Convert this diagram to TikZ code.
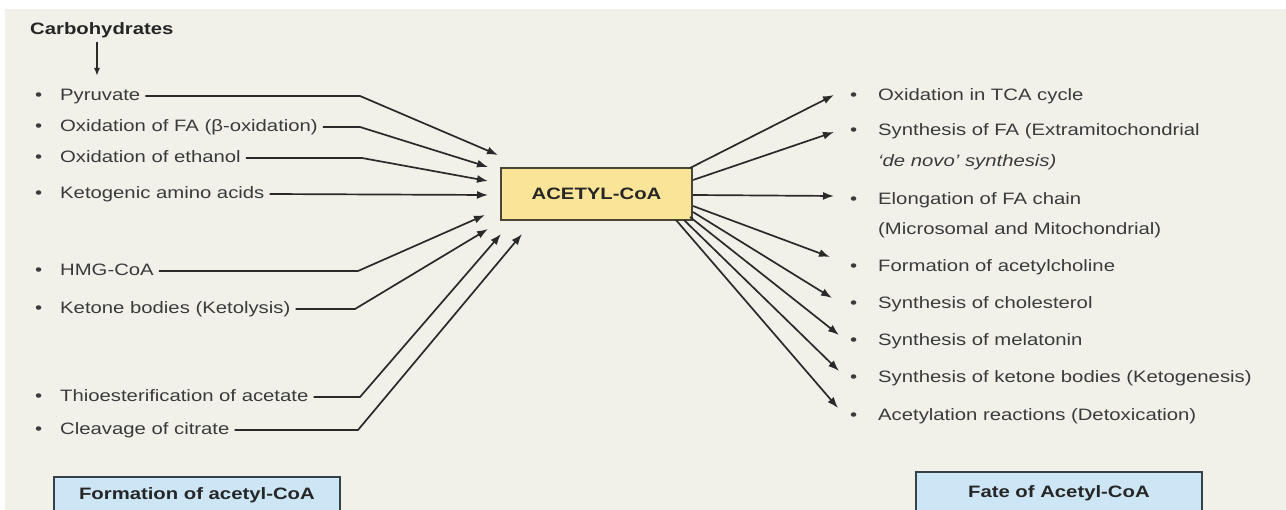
\documentclass[tikz,border=0pt]{standalone}
\usepackage{fontspec}
\setmainfont{Liberation Sans}[FakeStretch=1.23]
\usetikzlibrary{arrows.meta,calc}
\definecolor{bg}{HTML}{F1F1EA}
\definecolor{txt}{HTML}{3A3A3A}
\definecolor{ln}{HTML}{2A2A2A}
\definecolor{ybox}{HTML}{F9E497}
\definecolor{yedge}{HTML}{4A4636}
\definecolor{bbox}{HTML}{CDE6F6}
\definecolor{bedge}{HTML}{36424A}
\newcommand\myfs{\fontsize{16.5}{20}\selectfont}
\newcommand\lbul{\makebox[25pt][l]{•}}
\newcommand\rbul{\makebox[28pt][l]{•}}
\tikzset{
  item/.style={anchor=west, inner xsep=5pt, inner ysep=0pt, text height=12pt, text depth=3.5pt, text=txt, font=\myfs},
  conn/.style={draw=ln, line width=1.7pt, -{Latex[length=11pt,width=8pt]}},
  labelbox/.style={draw=bedge, line width=1.8pt, fill=bbox, font=\myfs\bfseries, text=black!85, anchor=north west, inner sep=0pt},
}
\begin{document}
\begin{tikzpicture}[x=1pt,y=-1pt]
\useasboundingbox (0,0) rectangle (1286,510);
\fill[white] (0,0) rectangle (1286,510);
\fill[bg] (5,9) rectangle (1286,510);

% Carbohydrates
\node[item, text=black!85, font=\myfs\bfseries, inner xsep=0pt] (carb) at (30,30) {Carbohydrates};
\coordinate (carbtip) at (97,76);
\draw[draw=ln, line width=1.7pt, -{Latex[length=8pt,width=6pt]}] (carb.south -| carbtip) ++(0,4) -- (carbtip);

% central box
\node[draw=yedge, line width=1.8pt, fill=ybox, minimum width=191pt, minimum height=52pt, inner sep=0pt,
      font=\myfs\bfseries, text=black!85] (acetyl) at (596.5,194) {ACETYL-CoA};

% left items
\node[item] (pyr)  at (30,96)  {\lbul Pyruvate};
\node[item] (foxa) at (30,127) {\lbul Oxidation of FA (β-oxidation)};
\node[item] (eth)  at (30,158) {\lbul Oxidation of ethanol};
\node[item] (keto) at (30,194) {\lbul Ketogenic amino acids};
\node[item] (hmg)  at (30,271) {\lbul HMG-CoA};
\node[item] (kb)   at (30,309) {\lbul Ketone bodies (Ketolysis)};
\node[item] (thio) at (30,397) {\lbul Thioesterification of acetate};
\node[item] (cit)  at (30,430) {\lbul Cleavage of citrate};

\coordinate (b1) at (360,96);  \coordinate (t1) at (498,155);
\coordinate (b2) at (360,127); \coordinate (t2) at (488,167);
\coordinate (b3) at (362,158); \coordinate (t3) at (488,181);
                               \coordinate (t4) at (488,195);
\coordinate (b5) at (358,271); \coordinate (t5) at (485,215);
\coordinate (b6) at (355,309); \coordinate (t6) at (488,229);
\coordinate (b7) at (360,397); \coordinate (t7) at (501,234);
\coordinate (b8) at (358,430); \coordinate (t8) at (522,234);

\draw[conn] (pyr.east) -- (b1) -- (t1);
\draw[conn] (foxa.east) -- (b2) -- (t2);
\draw[conn] (eth.east) -- (b3) -- (t3);
\draw[conn] (keto.east) -- (t4);
\draw[conn] (hmg.east) -- (b5) -- (t5);
\draw[conn] (kb.east) -- (b6) -- (t6);
\draw[conn] (thio.east) -- (b7) -- (t7);
\draw[conn] (cit.east) -- (b8) -- (t8);

% right items
\node[item] (tca)  at (845,96)  {\rbul Oxidation in TCA cycle};
\node[item] (fas)  at (845,131) {\rbul Synthesis of FA (Extramitochondrial};
\node[item, font=\myfs\itshape] (fas2) at (873,162) {‘de novo’ synthesis)};
\node[item] (elo)  at (845,200) {\rbul Elongation of FA chain};
\node[item] (elo2) at (873,230) {(Microsomal and Mitochondrial)};
\node[item] (ach)  at (845,267) {\rbul Formation of acetylcholine};
\node[item] (chol) at (845,304) {\rbul Synthesis of cholesterol};
\node[item] (mel)  at (845,341) {\rbul Synthesis of melatonin};
\node[item] (ketg) at (845,378) {\rbul Synthesis of ketone bodies (Ketogenesis)};
\node[item] (acy)  at (845,416) {\rbul Acetylation reactions (Detoxication)};

\coordinate (s1) at (690,168); \coordinate (r1) at (834,95);
\coordinate (s2) at (693,180); \coordinate (r2) at (834,132);
\coordinate (s3) at (693,195); \coordinate (r3) at (834,196);
\coordinate (s4) at (693,206); \coordinate (r4) at (830,257);
\coordinate (s5) at (693,212); \coordinate (r5) at (832,298);
\coordinate (s6) at (690,217); \coordinate (r6) at (839,335);
\coordinate (s7) at (684,220); \coordinate (r7) at (839,371);
\coordinate (s8) at (676,220); \coordinate (r8) at (838,408);

\draw[conn] (s1) -- (r1);
\draw[conn] (s2) -- (r2);
\draw[conn] (s3) -- (r3);
\draw[conn] (s4) -- (r4);
\draw[conn] (s5) -- (r5);
\draw[conn] (s6) -- (r6);
\draw[conn] (s7) -- (r7);
\draw[conn] (s8) -- (r8);

% bottom label boxes
\node[labelbox, minimum width=286pt, minimum height=36pt] (form) at (53,476) {Formation of acetyl-CoA};
\node[labelbox, minimum width=286pt, minimum height=42pt] (fate) at (915,471) {Fate of Acetyl-CoA};
\end{tikzpicture}
\end{document}
